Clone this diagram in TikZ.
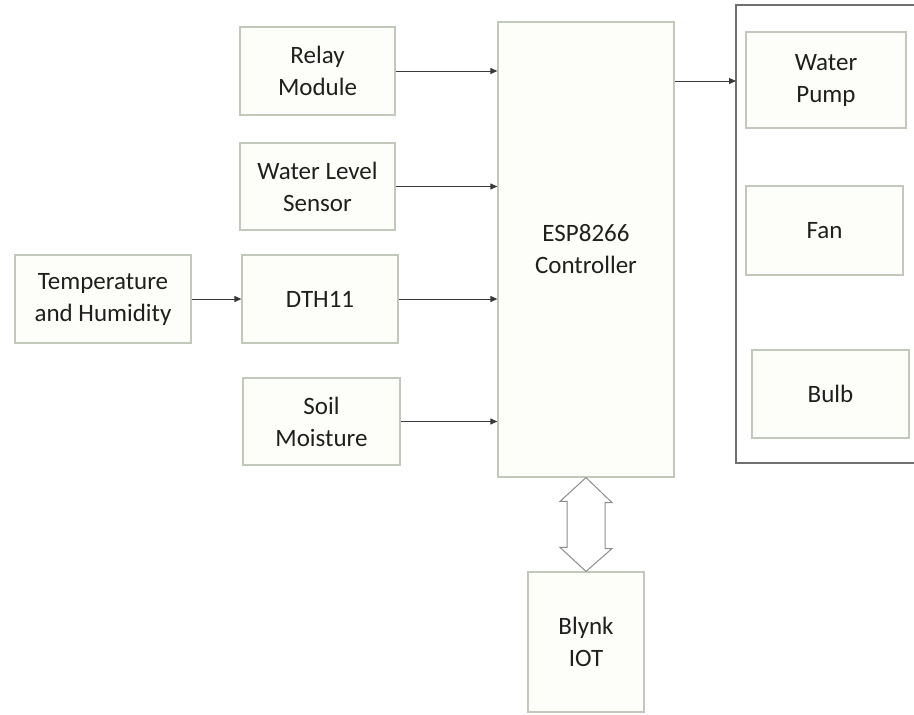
\documentclass[tikz,border=0pt]{standalone}
\usepackage{fontspec}
\setmainfont{Carlito}
\usetikzlibrary{arrows.meta}
\definecolor{boxline}{HTML}{C3C9BA}
\definecolor{boxfill}{HTML}{FDFDF9}
\definecolor{arrline}{HTML}{3A3A3A}
\definecolor{outerline}{HTML}{707070}
\tikzset{
  blk/.style={draw=boxline, fill=boxfill, line width=1.2pt, align=center, inner sep=0pt,
    font=\fontsize{25}{32}\selectfont, text=black!88},
  conn/.style={draw=arrline, line width=1pt, -{Triangle[length=7pt,width=6pt]}},
}
\begin{document}
\begin{tikzpicture}[x=1pt,y=-1pt]
\useasboundingbox (0,0) rectangle (914,715);
\fill[white] (0,0) rectangle (914,715);
% outer group box (open to the right)
\draw[outerline, line width=1.8pt] (914,5) -- (736,5) -- (736,463) -- (914,463);
\node[blk, minimum width=155, minimum height=88] (relay) at (317.5,71) {Relay\\Module};
\node[blk, minimum width=155, minimum height=87] (wls) at (317.5,186.5) {Water Level\\Sensor};
\node[blk, minimum width=176, minimum height=88] (temp) at (103,299) {Temperature\\and Humidity};
\node[blk, minimum width=156, minimum height=88] (dth) at (320,299) {DTH11};
\node[blk, minimum width=157, minimum height=87] (soil) at (321.5,421.5) {Soil\\Moisture};
\node[blk, minimum width=176, minimum height=455] (esp) at (586,249.5) {ESP8266\\Controller};
\node[blk, minimum width=160, minimum height=96] (pump) at (826,80) {Water\\Pump};
\node[blk, minimum width=157, minimum height=89] (fan) at (824.5,230.5) {Fan};
\node[blk, minimum width=157, minimum height=88] (bulb) at (830.5,394) {Bulb};
\node[blk, minimum width=116, minimum height=140] (blynk) at (586,642) {Blynk\\IOT};
\coordinate (outer) at (736,81);
% connectors
\draw[conn] (relay.east) -- (relay.east -| esp.west);
\draw[conn] (wls.east) -- (wls.east -| esp.west);
\draw[conn] (temp.east) -- (dth.west);
\draw[conn] (dth.east) -- (dth.east -| esp.west);
\draw[conn] (soil.east) -- (soil.east -| esp.west);
\draw[conn] (esp.east |- outer) -- (outer);
% double block arrow
\draw[draw=outerline!80, fill=white, line width=1pt]
  (esp.south) -- ++(26,25) -- ++(-7,0) -- ++(0,46) -- ++(7,0) -- (blynk.north)
  -- ++(-26,-24) -- ++(7,0) -- ++(0,-46) -- ++(-7,0) -- cycle;
\end{tikzpicture}
\end{document}
